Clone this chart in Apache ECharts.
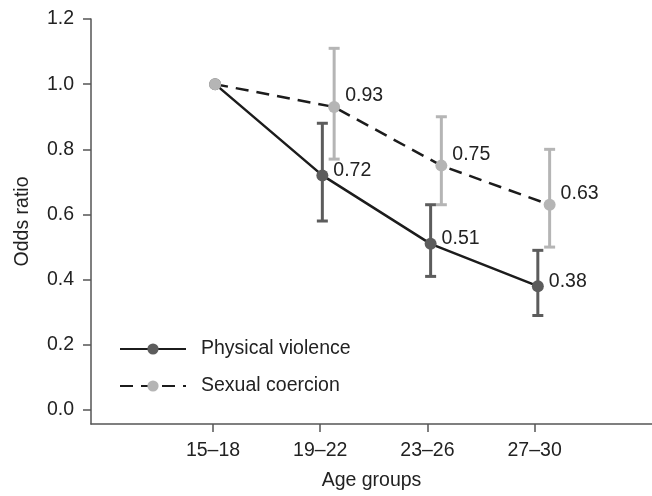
<!DOCTYPE html>
<html>
<head>
<meta charset="utf-8">
<script src="https://cdn.jsdelivr.net/npm/echarts@6/dist/echarts.min.js"></script>
<style>html,body{margin:0;padding:0;background:#fff}#c{width:652px;height:496px}</style>
</head>
<body>
<div id="c"></div>
<script>
// ---- data ----
var categories = ['15–18', '19–22', '23–26', '27–30'];
var yTicks = [0, 0.2, 0.4, 0.6, 0.8, 1.0, 1.2];
var physical = [1.0, 0.72, 0.51, 0.38];
var physicalLow = [null, 0.58, 0.41, 0.29];
var physicalHigh = [null, 0.88, 0.63, 0.49];
var sexual = [1.0, 0.93, 0.75, 0.63];
var sexualLow = [null, 0.77, 0.63, 0.50];
var sexualHigh = [null, 1.11, 0.90, 0.80];
// horizontal placement of each point (category index, with slight dodge)
var physicalX = [0.02, 1.02, 2.03, 3.03];
var sexualX = [0.02, 1.13, 2.13, 3.14];

var FONT = 'Liberation Sans, Arial, Helvetica, sans-serif';
var FS = 19.5;
var DARK = '#5c5c5c', LIGHT = '#b5b5b5', LINE = '#1c1c1c', AXIS = '#555';

function pts(xs, ys) { return ys.map(function (v, i) { return [xs[i], v]; }); }
function bars(xs, lo, hi) {
  var out = [];
  for (var i = 0; i < xs.length; i++) if (lo[i] != null) out.push([xs[i], lo[i], hi[i]]);
  return out;
}
function errRender(color) {
  return function (params, api) {
    var x = api.value(0);
    var a = api.coord([x, api.value(2)]);
    var b = api.coord([x, api.value(1)]);
    var w = 5.5;
    var st = { stroke: color, lineWidth: 3 };
    return { type: 'group', children: [
      { type: 'line', shape: { x1: a[0], y1: a[1], x2: b[0], y2: b[1] }, style: st },
      { type: 'line', shape: { x1: a[0] - w, y1: a[1], x2: a[0] + w, y2: a[1] }, style: st },
      { type: 'line', shape: { x1: b[0] - w, y1: b[1], x2: b[0] + w, y2: b[1] }, style: st }
    ]};
  };
}
function lbl(dy) {
  return {
    show: true, position: 'right', distance: 5, offset: [0, dy],
    color: '#222', fontSize: FS, fontFamily: FONT,
    formatter: function (p) { return p.dataIndex === 0 ? '' : p.value[1].toFixed(2); }
  };
}

var chart = echarts.init(document.getElementById('c'));
chart.setOption({
  animation: false,
  backgroundColor: '#fff',
  textStyle: { fontFamily: FONT },
  grid: { left: 91, right: 0, top: 19, bottom: 72 },
  legend: {
    orient: 'vertical', left: 114, top: 334,
    itemWidth: 66, itemHeight: 14, itemGap: 17,
    textStyle: { fontSize: FS, color: '#222', fontFamily: FONT, padding: [0, 0, 0, 10] },
    data: ['Physical violence', 'Sexual coercion']
  },
  xAxis: {
    type: 'value', min: -1.138, max: 4.095,
    name: 'Age groups', nameLocation: 'middle', nameGap: 47,
    nameTextStyle: { fontSize: FS, color: '#222', fontFamily: FONT },
    splitLine: { show: false },
    axisLine: { show: true, onZero: false, lineStyle: { color: AXIS, width: 1.5 } },
    axisTick: { show: true, length: 8, customValues: [0, 1, 2, 3], lineStyle: { color: AXIS, width: 1.5 } },
    axisLabel: { customValues: [0, 1, 2, 3], margin: 17, fontSize: FS, color: '#222', fontFamily: FONT,
      formatter: function (v) { return categories[Math.round(v)]; } }
  },
  yAxis: {
    type: 'value', min: -0.043, max: 1.2,
    name: 'Odds ratio', nameLocation: 'middle', nameGap: 58,
    nameTextStyle: { fontSize: FS, color: '#222', fontFamily: FONT },
    splitLine: { show: false },
    axisLine: { show: true, onZero: false, lineStyle: { color: AXIS, width: 1.5 } },
    axisTick: { show: true, length: 8, customValues: yTicks, lineStyle: { color: AXIS, width: 1.5 } },
    axisLabel: { customValues: yTicks, margin: 17, fontSize: FS, color: '#222', fontFamily: FONT,
      formatter: function (v) { return v.toFixed(1); } }
  },
  series: [
    { type: 'custom', name: 'physErr', z: 1, renderItem: errRender(DARK),
      data: bars(physicalX, physicalLow, physicalHigh), encode: { x: 0, y: [1, 2] }, silent: true },
    { type: 'custom', name: 'sexErr', z: 1, renderItem: errRender(LIGHT),
      data: bars(sexualX, sexualLow, sexualHigh), encode: { x: 0, y: [1, 2] }, silent: true },
    { type: 'line', name: 'Physical violence', z: 3, data: pts(physicalX, physical),
      symbol: 'circle', symbolSize: 12, showAllSymbol: true,
      lineStyle: { color: LINE, width: 2.5 },
      itemStyle: { color: DARK, borderWidth: 0 },
      label: lbl(-5) },
    { type: 'line', name: 'Sexual coercion', z: 4, data: pts(sexualX, sexual),
      symbol: 'circle', symbolSize: 12, showAllSymbol: true,
      lineStyle: { color: LINE, width: 2.5, type: [13, 8] },
      itemStyle: { color: LIGHT, borderWidth: 0 },
      label: lbl(-11) }
  ]
});
</script>
</body>
</html>
